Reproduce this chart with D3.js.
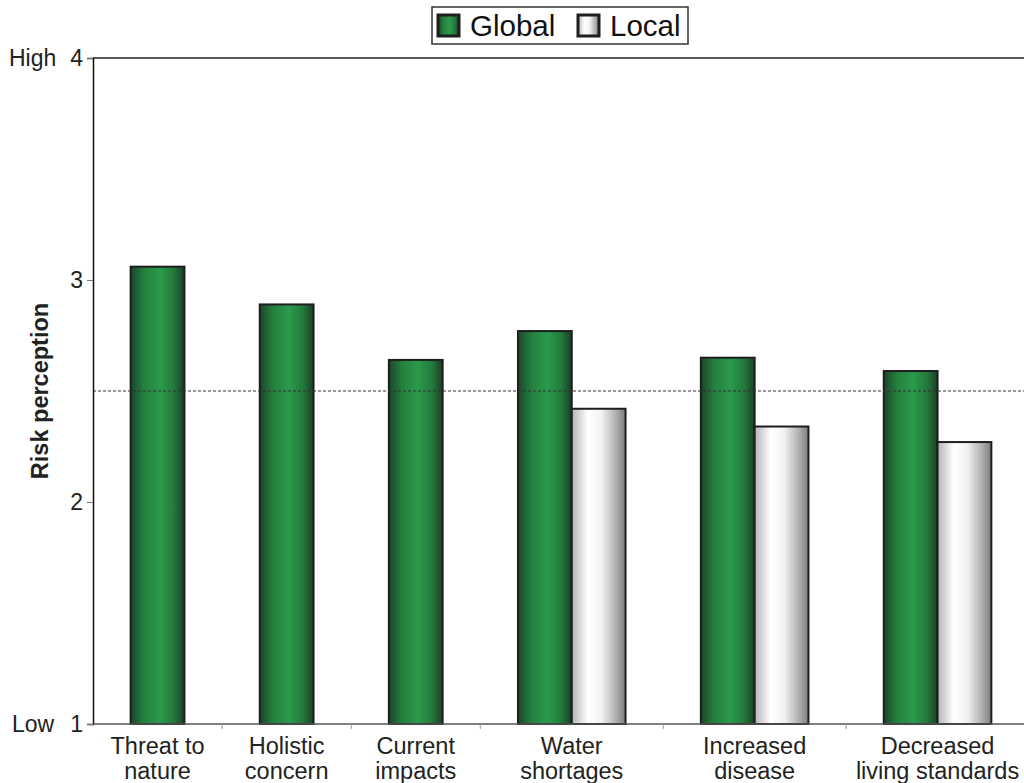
<!DOCTYPE html>
<html>
<head>
<meta charset="utf-8">
<script src="https://cdn.jsdelivr.net/npm/d3@7"></script>
<style>
  html, body { margin: 0; padding: 0; background: #fff; }
  svg { display: block; font-family: "Liberation Sans", Arial, sans-serif; }
</style>
</head>
<body>
<svg id="chart" width="1024" height="783"></svg>
<script>
// Risk perception by category, global vs local concern
const categories = [
  ["Threat to", "nature"],
  ["Holistic", "concern"],
  ["Current", "impacts"],
  ["Water", "shortages"],
  ["Increased", "disease"],
  ["Decreased", "living standards"]
];
const globalValues = [3.06, 2.89, 2.64, 2.77, 2.65, 2.59];
const localValues  = [null, null, null, 2.42, 2.34, 2.27];
const seriesNames = ["Global", "Local"];
const yTicks = [1, 2, 3, 4];
const referenceLevel = 2.5;

const svg = d3.select("#chart");
const margin = { left: 93, top: 58, bottom: 724, right: 1029 };

// Gradients for the shaded bars
const defs = svg.append("defs");
const gG = defs.append("linearGradient").attr("id", "gradGlobal");
[[0, "#1b4529"], [0.25, "#25803f"], [0.55, "#2a9a4b"], [0.8, "#237a3c"], [1, "#1a3d26"]]
  .forEach(([o, c]) => gG.append("stop").attr("offset", o).attr("stop-color", c));
const gL = defs.append("linearGradient").attr("id", "gradLocal");
[[0, "#b4b4b8"], [0.3, "#ffffff"], [0.55, "#f2f2f2"], [0.85, "#a8a8aa"], [1, "#7c7c80"]]
  .forEach(([o, c]) => gL.append("stop").attr("offset", o).attr("stop-color", c));
const fills = ["url(#gradGlobal)", "url(#gradLocal)"];

// Each category takes a gap plus one unit per series it has
const gapUnits = 1.4;
const counts = categories.map((c, i) => (globalValues[i] != null) + (localValues[i] != null));
const starts = [];
let acc = 0;
counts.forEach(n => { starts.push(acc); acc += gapUnits + n; });
const totalUnits = acc;
const x = d3.scaleLinear().domain([0, totalUnits]).range([margin.left, margin.right]);
const y = d3.scaleLinear().domain([1, 4]).range([margin.bottom, margin.top]);

// Bars
const bars = [];
categories.forEach((c, i) => {
  const vals = [globalValues[i], localValues[i]];
  let k = 0;
  vals.forEach((v, s) => {
    if (v == null) return;
    bars.push({ s, v, u0: starts[i] + gapUnits / 2 + k, u1: starts[i] + gapUnits / 2 + k + 1 });
    k++;
  });
});

svg.append("g").selectAll("rect").data(bars).join("rect")
  .attr("x", d => x(d.u0))
  .attr("width", d => x(d.u1) - x(d.u0))
  .attr("y", d => y(d.v))
  .attr("height", d => y(1) - y(d.v))
  .attr("fill", d => fills[d.s])
  .attr("stroke", "#1e1e1e")
  .attr("stroke-width", 2);

// Reference line at midpoint of scale
svg.append("line")
  .attr("x1", margin.left).attr("x2", 1024)
  .attr("y1", y(referenceLevel)).attr("y2", y(referenceLevel))
  .attr("stroke", "#333").attr("stroke-width", 1)
  .attr("stroke-dasharray", "3,2");

// Frame: top border
svg.append("line").attr("x1", margin.left).attr("x2", 1024)
  .attr("y1", margin.top).attr("y2", margin.top)
  .attr("stroke", "#222").attr("stroke-width", 1.5);

// Y axis
const yAxis = svg.append("g").attr("transform", `translate(${margin.left},0)`)
  .call(d3.axisLeft(y).tickValues(yTicks).tickSize(6).tickPadding(4).tickFormat(d3.format("d")));
yAxis.select(".domain").attr("stroke", "#111").attr("stroke-width", 1.5);
yAxis.selectAll(".tick line").attr("stroke", "#777");
yAxis.selectAll(".tick text").attr("font-size", 23).attr("fill", "#222")
  .attr("font-family", "Liberation Sans, Arial, sans-serif");

// High / Low anchors
svg.append("text").attr("x", 9).attr("y", y(4)).attr("dy", "0.35em")
  .attr("font-size", 23).attr("fill", "#222").text("High");
svg.append("text").attr("x", 12).attr("y", y(1)).attr("dy", "0.35em")
  .attr("font-size", 23).attr("fill", "#222").text("Low");

// X axis with ticks at category boundaries
const boundaries = starts.slice(1).concat([totalUnits]);
svg.append("line").attr("x1", margin.left).attr("x2", 1024)
  .attr("y1", y(1)).attr("y2", y(1))
  .attr("stroke", "#555").attr("stroke-width", 1.5);
svg.append("g").selectAll("line").data(boundaries).join("line")
  .attr("x1", d => x(d)).attr("x2", d => x(d))
  .attr("y1", y(1)).attr("y2", y(1) + 5)
  .attr("stroke", "#999").attr("stroke-width", 1);

// Category labels
const lbl = svg.append("g").selectAll("text").data(categories).join("text")
  .attr("text-anchor", "middle")
  .attr("font-size", 23.5).attr("fill", "#222");
lbl.each(function(d, i) {
  const cx = x(starts[i] + (gapUnits + counts[i]) / 2);
  const t = d3.select(this);
  d.forEach((line, j) => t.append("tspan").attr("x", cx).attr("y", 754 + j * 25).text(line));
});

// Y axis title
svg.append("text")
  .attr("transform", `translate(48,${(margin.top + margin.bottom) / 2}) rotate(-90)`)
  .attr("text-anchor", "middle").attr("font-size", 23.5).attr("font-weight", "bold")
  .attr("fill", "#222").text("Risk perception");

// Legend
const legend = svg.append("g");
legend.append("rect").attr("x", 432).attr("y", 7).attr("width", 256).attr("height", 37)
  .attr("fill", "#fff").attr("stroke", "#333").attr("stroke-width", 1.5);
const legX = [438, 578];
seriesNames.forEach((name, s) => {
  legend.append("rect").attr("x", legX[s]).attr("y", 15).attr("width", 21).attr("height", 21)
    .attr("fill", fills[s]).attr("stroke", "#1e1e1e").attr("stroke-width", 3);
  legend.append("text").attr("x", legX[s] + 32).attr("y", 36)
    .attr("font-size", 29.5).attr("fill", "#111").text(name);
});
</script>
</body>
</html>
